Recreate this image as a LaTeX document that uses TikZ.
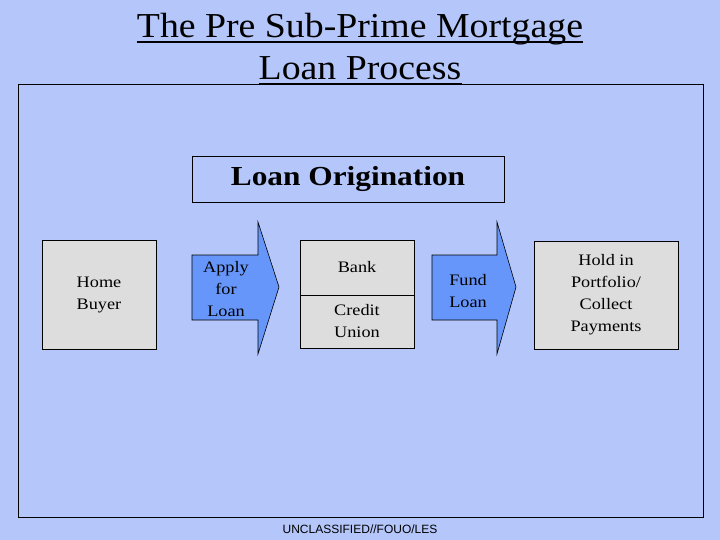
\documentclass[tikz,border=0pt]{standalone}
\usepackage{fontspec}
\setmainfont{Liberation Serif}
\setsansfont{Liberation Sans}
\newfontfamily\titlefont[FakeStretch=1.08]{Liberation Serif}
\newfontfamily\wideserif[FakeStretch=1.14]{Liberation Serif}
\definecolor{bgblue}{RGB}{180,198,250}
\definecolor{arrowblue}{RGB}{102,150,250}
\definecolor{boxgrey}{RGB}{221,221,221}
\begin{document}
\begin{tikzpicture}[x=1pt,y=-1pt,
  box/.style={draw=black,fill=boxgrey,line width=0.8pt,align=center,font=\wideserif\fontsize{16}{22}\selectfont},
  arrowshape/.style={draw=black,fill=arrowblue,line width=0.6pt},
  lbl/.style={align=center,font=\wideserif\fontsize{16}{22}\selectfont},
  ttl/.style={font=\titlefont\fontsize{35}{38}\selectfont,inner sep=0pt,anchor=base}]
\fill[bgblue] (0,0) rectangle (720,540);
\useasboundingbox (0,0) rectangle (720,540);
% title
\node[ttl] (t1) at (360,38) {The Pre Sub-Prime Mortgage};
\node[ttl] (t2) at (360,80) {Loan Process};
\draw[line width=1.6pt] ([yshift=-4pt]t1.base west) -- ([yshift=-4pt]t1.base east);
\draw[line width=1.6pt] ([yshift=-4pt]t2.base west) -- ([yshift=-4pt]t2.base east);
% frame
\draw[line width=0.8pt] (18,84) rectangle (703,517);
% loan origination
\node[draw=black,line width=0.8pt,minimum width=312pt,minimum height=46pt,
  font=\wideserif\bfseries\fontsize{27.5}{30}\selectfont] (orig) at (348,179) {Loan Origination};
% home buyer
\node[box,minimum width=114pt,minimum height=109pt] (buyer) at (99,294.5) {Home\\Buyer};
% apply arrow
\filldraw[arrowshape] (192,255) -- (258,255) -- (258,222) -- (279,287) -- (258,354) -- (258,320) -- (192,320) -- cycle;
\node[lbl] (apply) at (226,289) {Apply\\for\\Loan};
% bank / credit union
\node[box,minimum width=114pt,minimum height=55pt] (bank) at (357,267.5) {Bank};
\node[box,minimum width=114pt,minimum height=53pt] (cu) at (357,321.5) {Credit\\Union};
% fund arrow
\filldraw[arrowshape] (432,255) -- (497,255) -- (497,222) -- (516,287) -- (497,354) -- (497,320) -- (432,320) -- cycle;
\node[lbl] (fund) at (468,291) {Fund\\Loan};
% hold
\node[box,minimum width=144pt,minimum height=108pt] (hold) at (606,295) {Hold in\\Portfolio/\\Collect\\Payments};
% footer
\node[font=\sffamily\fontsize{12}{14}\selectfont] (foot) at (360,529) {UNCLASSIFIED//FOUO/LES};
\end{tikzpicture}
\end{document}
